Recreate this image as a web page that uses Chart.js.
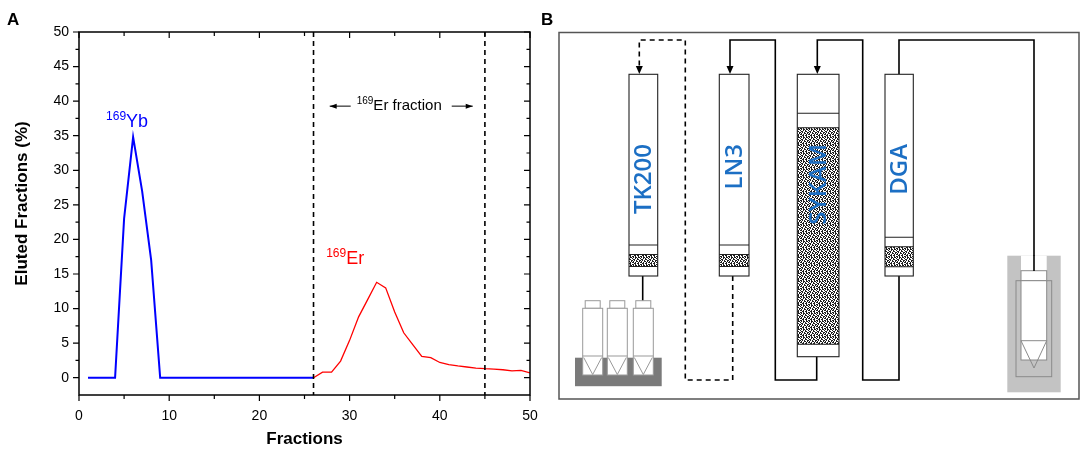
<!DOCTYPE html>
<html>
<head>
<meta charset="utf-8">
<script src="https://cdn.jsdelivr.net/npm/chart.js@4"></script>
<style>
  html, body { margin: 0; padding: 0; background: #fff; }
  #wrap { position: relative; width: 1084px; height: 454px; overflow: hidden; }
  #elution { position: absolute; left: 0; top: 0; }
  #scheme { position: absolute; left: 0; top: 0; pointer-events: none; }
</style>
</head>
<body>
<div id="wrap">
  <canvas id="elution" width="545" height="454"></canvas>
  <canvas id="scheme" width="1084" height="454"></canvas>
</div>
<script>
// elution profile
const YB_FRACTIONS = [1, 2, 3, 4, 5, 6, 7, 8, 9, 10, 11, 12, 13, 14, 15, 16, 17, 18, 19, 20, 21, 22, 23, 24, 25, 26];
const YB_VALUES = [0, 0, 0, 0, 23, 34.8, 27, 17, 0, 0, 0, 0, 0, 0, 0, 0, 0, 0, 0, 0, 0, 0, 0, 0, 0, 0];

const ER_FRACTIONS = [26, 27, 28, 29, 30, 31, 32, 33, 34, 35, 36, 37, 38, 39, 40, 41, 42, 43, 44, 45, 46, 47, 48, 49, 50];
const ER_VALUES = [0, 0.8, 0.8, 2.4, 5.4, 8.8, 11.3, 13.8, 13.0, 9.5, 6.5, 4.8, 3.1, 2.9, 2.2, 1.9, 1.7, 1.55, 1.4, 1.3, 1.25, 1.15, 1.0, 1.05, 0.7];

const ER_WINDOW = [26, 45];

const X_TICKS = [0, 10, 20, 30, 40, 50];
const X_MINOR = [5, 15, 25, 35, 45];
const Y_TICKS = [0, 5, 10, 15, 20, 25, 30, 35, 40, 45, 50];
const Y_MINOR = [2.5, 7.5, 12.5, 17.5, 22.5, 27.5, 32.5, 37.5, 42.5, 47.5];

const FONT = "'Liberation Sans', Arial, sans-serif";
const BLUE = "#0000ff";
const RED = "#ff0000";

function points(xs, ys) {
  return xs.map((x, i) => ({ x: x, y: ys[i] }));
}

function drawSup(ctx, x, y, sup, main, supSize, mainSize, color, align) {
  ctx.save();
  ctx.fillStyle = color;
  ctx.textBaseline = "alphabetic";
  ctx.font = `${supSize}px ${FONT}`;
  const ws = ctx.measureText(sup).width;
  ctx.font = `${mainSize}px ${FONT}`;
  const wm = ctx.measureText(main).width;
  let x0 = x;
  if (align === "center") x0 = x - (ws + wm) / 2;
  ctx.textAlign = "left";
  ctx.font = `${supSize}px ${FONT}`;
  ctx.fillText(sup, x0, y - mainSize * 0.4);
  ctx.font = `${mainSize}px ${FONT}`;
  ctx.fillText(main, x0 + ws, y);
  ctx.restore();
  return { left: x0, right: x0 + ws + wm };
}

// frame with ticks on all four sides (out on bottom/left, in on top/right)
const frameTicks = {
  id: "frameTicks",
  afterDraw(chart) {
    const { ctx, chartArea: a, scales } = chart;
    const xs = scales.x, ys = scales.y;
    ctx.save();
    ctx.strokeStyle = "#000";
    ctx.lineWidth = 1.5;
    ctx.strokeRect(a.left, a.top, a.right - a.left, a.bottom - a.top);
    ctx.lineWidth = 1.2;
    ctx.beginPath();
    const tick = (vals, len) => {
      vals.forEach((v) => {
        const px = xs.getPixelForValue(v);
        ctx.moveTo(px, a.bottom); ctx.lineTo(px, a.bottom + len);
        ctx.moveTo(px, a.top); ctx.lineTo(px, a.top + len);
      });
    };
    tick(X_TICKS, 6);
    tick(X_MINOR, 4);
    const ytick = (vals, len) => {
      vals.forEach((v) => {
        const py = ys.getPixelForValue(v);
        ctx.moveTo(a.left, py); ctx.lineTo(a.left - len, py);
        ctx.moveTo(a.right, py); ctx.lineTo(a.right - len, py);
      });
    };
    ytick(Y_TICKS, 6);
    ytick(Y_MINOR, 3.5);
    ctx.stroke();

    // y title, a little above centre as in the original
    ctx.fillStyle = "#000";
    ctx.font = `bold 17px ${FONT}`;
    ctx.save();
    ctx.translate(22, (a.top + a.bottom) / 2 - 10);
    ctx.rotate(-Math.PI / 2);
    ctx.textAlign = "center";
    ctx.textBaseline = "middle";
    ctx.fillText("Eluted Fractions (%)", 0, 0);
    ctx.restore();

    // panel letter
    ctx.textAlign = "left";
    ctx.textBaseline = "alphabetic";
    ctx.fillText("A", 7, 25);
    ctx.restore();
  },
  afterDatasetsDraw(chart) {
    const { ctx, chartArea: a, scales } = chart;
    const xs = scales.x, ys = scales.y;
    ctx.save();
    ctx.strokeStyle = "#000";
    ctx.lineWidth = 1.6;
    ctx.setLineDash([5, 4]);
    ER_WINDOW.forEach((v) => {
      const px = xs.getPixelForValue(v);
      ctx.beginPath();
      ctx.moveTo(px, a.top);
      ctx.lineTo(px, a.bottom);
      ctx.stroke();
    });
    ctx.setLineDash([]);

    // peak labels
    drawSup(ctx, xs.getPixelForValue(3.0), ys.getPixelForValue(36.3), "169", "Yb", 12, 18, BLUE, "left");
    drawSup(ctx, xs.getPixelForValue(27.4), ys.getPixelForValue(16.4), "169", "Er", 12, 18, RED, "left");

    // fraction window label with arrows
    const cx = (xs.getPixelForValue(ER_WINDOW[0]) + xs.getPixelForValue(ER_WINDOW[1])) / 2;
    const by = ys.getPixelForValue(38.7);
    const span = drawSup(ctx, cx, by, "169", "Er fraction", 10, 15, "#000", "center");
    const ay = by - 4;
    ctx.strokeStyle = "#000";
    ctx.fillStyle = "#000";
    ctx.lineWidth = 1;
    ctx.beginPath();
    ctx.moveTo(span.left - 6, ay); ctx.lineTo(span.left - 27, ay);
    ctx.moveTo(span.right + 10, ay); ctx.lineTo(span.right + 31, ay);
    ctx.stroke();
    ctx.beginPath();
    ctx.moveTo(span.left - 27, ay); ctx.lineTo(span.left - 20, ay - 2.5); ctx.lineTo(span.left - 20, ay + 2.5); ctx.closePath();
    ctx.moveTo(span.right + 31, ay); ctx.lineTo(span.right + 24, ay - 2.5); ctx.lineTo(span.right + 24, ay + 2.5); ctx.closePath();
    ctx.fill();
    ctx.restore();
  }
};

function initElutionChart() {
  const canvas = document.getElementById("elution");
  new Chart(canvas.getContext("2d"), {
    type: "line",
    data: {
      datasets: [
        {
          label: "169Yb",
          data: points(YB_FRACTIONS, YB_VALUES),
          borderColor: BLUE,
          borderWidth: 2,
          pointRadius: 0,
          tension: 0,
        },
        {
          label: "169Er",
          data: points(ER_FRACTIONS, ER_VALUES),
          borderColor: RED,
          borderWidth: 1.3,
          pointRadius: 0,
          tension: 0,
        },
      ],
    },
    options: {
      responsive: false,
      animation: false,
      events: [],
      layout: { padding: { top: 32, right: 15, left: 0, bottom: 0 } },
      plugins: { legend: { display: false }, tooltip: { enabled: false } },
      scales: {
        x: {
          type: "linear",
          min: 0,
          max: 50,
          afterBuildTicks: (s) => { s.ticks = X_TICKS.map((v) => ({ value: v })); },
          afterFit: (s) => { s.height = 59; s.paddingLeft = 0; s.paddingRight = 0; },
          grid: { display: false, drawTicks: false },
          border: { display: false },
          ticks: { color: "#000", font: { family: FONT, size: 14 }, padding: 13, maxRotation: 0 },
          title: {
            display: true,
            text: "Fractions",
            color: "#000",
            font: { family: FONT, size: 17, weight: "bold" },
            padding: { top: 0, bottom: 4 },
          },
        },
        y: {
          type: "linear",
          min: -2.5,
          max: 50,
          afterBuildTicks: (s) => { s.ticks = Y_TICKS.map((v) => ({ value: v })); },
          afterFit: (s) => { s.width = 79; },
          grid: { display: false, drawTicks: false },
          border: { display: false },
          ticks: { color: "#000", font: { family: FONT, size: 14 }, padding: 10 },
          title: { display: false },
        },
      },
    },
    plugins: [frameTicks],
  });
}

// ---- panel B: column set-up schematic ----
// small repeating stipple used for the resin beds
const STIPPLE_TILE = [
  "##.#..#.",
  ".#.##.##",
  "#..#.#..",
  ".##..##.",
  "#.#.#..#",
  ".#..##.#",
  "##.#..#.",
  "..##.##.",
];

function stipple(ctx) {
  const n = STIPPLE_TILE.length;
  const tile = document.createElement("canvas");
  tile.width = n; tile.height = n;
  const t = tile.getContext("2d");
  t.fillStyle = "#fff";
  t.fillRect(0, 0, n, n);
  t.fillStyle = "#1e1e1e";
  STIPPLE_TILE.forEach((row, y) => {
    [...row].forEach((ch, x) => { if (ch === "#") t.fillRect(x, y, 1, 1); });
  });
  return ctx.createPattern(tile, "repeat");
}

function drawColumn(ctx, pat, c) {
  const w = c.x1 - c.x0;
  ctx.fillStyle = "#fff";
  ctx.fillRect(c.x0, c.top, w, c.bottom - c.top);
  ctx.fillStyle = pat;
  ctx.fillRect(c.x0, c.fritTop, w, c.fritBottom - c.fritTop);
  ctx.strokeStyle = "#222";
  ctx.lineWidth = 1.1;
  ctx.strokeRect(c.x0, c.top, w, c.bottom - c.top);
  ctx.beginPath();
  [c.band, c.fritTop, c.fritBottom].forEach((yy) => { ctx.moveTo(c.x0, yy); ctx.lineTo(c.x1, yy); });
  ctx.stroke();
  ctx.save();
  ctx.translate((c.x0 + c.x1) / 2, 144);
  ctx.rotate(-Math.PI / 2);
  ctx.fillStyle = "#1c6fc4";
  ctx.font = "600 24px 'Open Sans', 'Noto Sans', sans-serif";
  ctx.textAlign = "right";
  ctx.textBaseline = "middle";
  ctx.fillText(c.name, 0, 1);
  ctx.restore();
}

function path(ctx, pts) {
  ctx.beginPath();
  ctx.moveTo(pts[0][0], pts[0][1]);
  for (let i = 1; i < pts.length; i++) ctx.lineTo(pts[i][0], pts[i][1]);
  ctx.stroke();
}

function arrowDown(ctx, x, y) {
  ctx.beginPath();
  ctx.moveTo(x, y);
  ctx.lineTo(x - 3.5, y - 8);
  ctx.lineTo(x + 3.5, y - 8);
  ctx.closePath();
  ctx.fill();
}

function drawVial(ctx, cx) {
  ctx.strokeStyle = "#999";
  ctx.lineWidth = 1;
  ctx.fillStyle = "#fff";
  ctx.fillRect(cx - 7.5, 300.7, 15, 7.6);
  ctx.strokeRect(cx - 7.5, 300.7, 15, 7.6);
  ctx.fillRect(cx - 10, 308.3, 20, 66.7);
  ctx.strokeRect(cx - 10, 308.3, 20, 66.7);
  ctx.beginPath();
  ctx.moveTo(cx - 10, 356); ctx.lineTo(cx + 10, 356);
  ctx.moveTo(cx - 9, 357.5); ctx.lineTo(cx, 374.5); ctx.lineTo(cx + 9, 357.5);
  ctx.stroke();
}

function initScheme() {
  const canvas = document.getElementById("scheme");
  const ctx = canvas.getContext("2d");
  const pat = stipple(ctx);

  ctx.fillStyle = "#000";
  ctx.font = `bold 17px ${FONT}`;
  ctx.fillText("B", 541, 25);

  ctx.strokeStyle = "#555";
  ctx.lineWidth = 1.5;
  ctx.strokeRect(559, 32.5, 520, 366.5);

  // tubing
  ctx.strokeStyle = "#000";
  ctx.fillStyle = "#000";
  ctx.lineWidth = 1.6;
  ctx.setLineDash([5, 4]);
  path(ctx, [[732.7, 276], [732.7, 380], [685.3, 380], [685.3, 40], [639.3, 40], [639.3, 68]]);
  ctx.setLineDash([]);
  arrowDown(ctx, 639.3, 74);
  path(ctx, [[816.7, 356], [816.7, 380], [775.3, 380], [775.3, 40], [730, 40], [730, 68]]);
  arrowDown(ctx, 730, 74);
  path(ctx, [[899, 276], [899, 380], [862.7, 380], [862.7, 40], [817.3, 40], [817.3, 68]]);
  arrowDown(ctx, 817.3, 74);
  path(ctx, [[899, 74], [899, 40], [1034, 40], [1034, 271]]);
  path(ctx, [[642.7, 276], [642.7, 301]]);

  const columns = [
    { name: "TK200", x0: 629, x1: 657.7, top: 74.3, bottom: 276, band: 245, fritTop: 254.5, fritBottom: 266.5 },
    { name: "LN3", x0: 719.3, x1: 749, top: 74.3, bottom: 276, band: 245, fritTop: 254.5, fritBottom: 266.5 },
    { name: "SYKAM", x0: 797.3, x1: 839, top: 74.3, bottom: 356.7, band: 113.3, fritTop: 127.7, fritBottom: 344.3 },
    { name: "DGA", x0: 885, x1: 913.3, top: 74.3, bottom: 276, band: 237.3, fritTop: 246.7, fritBottom: 266.7 },
  ];
  columns.forEach((c) => drawColumn(ctx, pat, c));

  // collection rack with three vials
  ctx.fillStyle = "#7a7a7a";
  ctx.fillRect(575, 357.7, 86.7, 28.5);
  [592.7, 617.3, 643.3].forEach((cx) => drawVial(ctx, cx));

  // waste vessel on the right
  ctx.fillStyle = "#c3c3c3";
  ctx.fillRect(1007.3, 255.7, 53.4, 136.6);
  ctx.fillStyle = "#fff";
  ctx.fillRect(1021, 255.7, 25.7, 25);
  ctx.strokeStyle = "#8a8a8a";
  ctx.lineWidth = 1;
  ctx.strokeRect(1021, 270.7, 25.7, 10);
  ctx.strokeRect(1016, 280.7, 35.7, 96);
  ctx.fillStyle = "#fff";
  ctx.fillRect(1021, 280.7, 25.7, 79.3);
  ctx.strokeRect(1021, 280.7, 25.7, 79.3);
  ctx.beginPath();
  ctx.moveTo(1021, 340.7); ctx.lineTo(1046.7, 340.7);
  ctx.moveTo(1021, 340.7); ctx.lineTo(1034, 368); ctx.lineTo(1046.7, 340.7);
  ctx.stroke();
  ctx.strokeStyle = "#000";
  ctx.lineWidth = 1.6;
  path(ctx, [[1034, 255], [1034, 271]]);
}

document.addEventListener("DOMContentLoaded", () => {
  initElutionChart();
  initScheme();
});
</script>
</body>
</html>
